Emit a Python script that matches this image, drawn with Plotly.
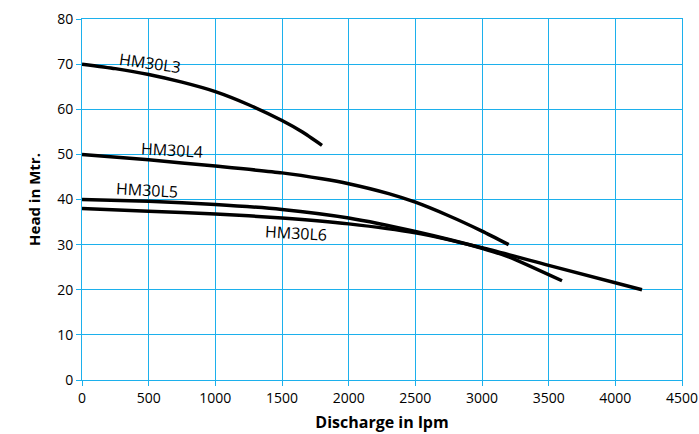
import plotly.graph_objects as go

q_L3 = [0, 250, 500, 750, 1000, 1250, 1500, 1650, 1800]
h_L3 = [70, 69, 67.7, 66, 63.9, 61, 57.5, 55, 52]

q_L4 = [0, 500, 1000, 1500, 1800, 2000, 2300, 2500, 2750, 3000, 3200]
h_L4 = [50, 48.8, 47.4, 45.9, 44.6, 43.5, 41.3, 39.4, 36.4, 33.0, 30]

q_L5 = [0, 500, 1000, 1500, 2000, 2500, 3000, 3200, 3600]
h_L5 = [40, 39.6, 38.9, 37.8, 35.9, 32.9, 29.2, 27.3, 22]

q_L6 = [0, 500, 1000, 1500, 2000, 2500, 3000, 3500, 4200]
h_L6 = [38, 37.4, 36.8, 35.9, 34.6, 32.6, 29.3, 25.4, 20]

series = [("HM30L3", q_L3, h_L3), ("HM30L4", q_L4, h_L4),
          ("HM30L5", q_L5, h_L5), ("HM30L6", q_L6, h_L6)]

# label positions (data coords) and angles
labels = [("HM30L3", 510, 70.2, 8), ("HM30L4", 675, 51.0, 3),
          ("HM30L5", 488, 42.1, 3), ("HM30L6", 1605, 32.5, 3)]

x_ticks = [0, 500, 1000, 1500, 2000, 2500, 3000, 3500, 4000, 4500]
y_ticks = [0, 10, 20, 30, 40, 50, 60, 70, 80]

FONT = "Open Sans"
BLUE = "#1CB0EC"

fig = go.Figure()
for name, q, h in series:
    fig.add_trace(go.Scatter(x=q, y=h, mode="lines", name=name,
                             line=dict(color="black", width=3.5, shape="spline", smoothing=0.6),
                             showlegend=False, hoverinfo="skip"))

for text, x, y, ang in labels:
    fig.add_annotation(x=x, y=y, text=text, showarrow=False, textangle=ang,
                       font=dict(family=FONT, size=16, color="black"))

fig.update_layout(
    width=699, height=434,
    margin=dict(l=82, r=17, t=19, b=54),
    paper_bgcolor="white", plot_bgcolor="white",
    font=dict(family=FONT, size=14, color="black"),
)
fig.update_xaxes(range=[0, 4500], tickvals=x_ticks, ticktext=[str(v) for v in x_ticks],
                 showgrid=True, gridcolor=BLUE, gridwidth=1, automargin=False,
                 showline=True, linecolor=BLUE, linewidth=1, mirror=True,
                 ticks="outside", ticklen=5, tickcolor=BLUE, zeroline=False,
                 tickfont=dict(family=FONT, size=14),
                 title=dict(text="<b>Discharge in lpm</b>", font=dict(family=FONT, size=16), standoff=11))
fig.update_yaxes(range=[0, 80], tickvals=y_ticks, ticktext=[str(v) for v in y_ticks],
                 showgrid=True, gridcolor=BLUE, gridwidth=1, automargin=False,
                 showline=True, linecolor=BLUE, linewidth=1, mirror=True,
                 ticks="outside", ticklen=5, tickcolor=BLUE, zeroline=False,
                 tickfont=dict(family=FONT, size=14),
                 title=dict(text="<b>Head in Mtr.</b>", font=dict(family=FONT, size=15), standoff=12))

# remove the default 8px page margin so the figure fills the window exactly
fig.write_html("out.html", config={"displayModeBar": False},
               post_script="document.body.style.margin='0';document.body.style.overflow='hidden';")
